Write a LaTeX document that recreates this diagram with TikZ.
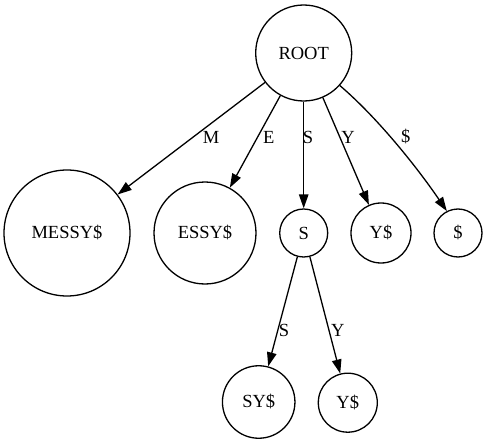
\documentclass[tikz,border=0pt]{standalone}
\usepackage{fontspec}
\setmainfont{Liberation Serif}
\usetikzlibrary{arrows.meta}
\begin{document}
\begin{tikzpicture}[x=1pt,y=-1pt,
  every node/.style={font=\fontsize{18.5}{20}\selectfont},
  st/.style={draw,circle,line width=1.3pt,inner sep=0pt},
  edge/.style={line width=1.3pt,-{Triangle[length=14pt,width=9.5pt]}},
  lab/.style={inner sep=0pt}]
\useasboundingbox (0,0) rectangle (488,444);
\node[st,minimum size=96pt] (root) at (303.7,53) {ROOT};
\node[st,minimum size=126pt] (messy) at (67,233) {MESSY\$};
\node[st,minimum size=102pt] (essy) at (205,233) {ESSY\$};
\node[st,minimum size=48pt] (s) at (303.7,233) {S};
\node[st,minimum size=60pt] (y) at (381,233) {Y\$};
\node[st,minimum size=48pt] (dol) at (458,233) {\$};
\node[st,minimum size=72.5pt] (sy) at (258.7,402) {SY\$};
\node[st,minimum size=59pt] (y2) at (347.8,402.7) {Y\$};
\draw[edge] (root) -- (messy);
\draw[edge] (root) -- (essy);
\draw[edge] (root) -- (s);
\draw[edge] (root) -- (y);
\draw[edge] (root.-42.8) .. controls (379,119) and (419,170) .. (dol.117.5);
\draw[edge] (s) -- (sy);
\draw[edge] (s) -- (y2);
\node[lab] (lm) at (211,137) {M};
\node[lab] (le) at (268.7,137) {E};
\node[lab] (ls) at (308,137) {S};
\node[lab] (ly) at (348,137) {Y};
\node[lab] (ld) at (405.7,137) {\$};
\node[lab] (ls2) at (284,330.7) {S};
\node[lab] (ly2) at (337.7,330.7) {Y};
\end{tikzpicture}
\end{document}
